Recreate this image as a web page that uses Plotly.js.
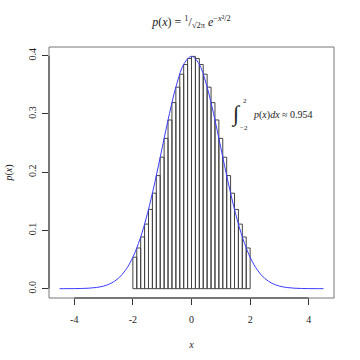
<!DOCTYPE html>
<html>
<head>
<meta charset="utf-8">
<script src="https://cdn.plot.ly/plotly-3.0.1.min.js"></script>
<style>html,body{margin:0;padding:0;background:#fff;}#chart{width:360px;height:360px;}</style>
</head>
<body>
<div id="chart"></div>
<script>
// Bars: left edges and heights
var barLeft = [-2.0000,-1.8667,-1.7333,-1.6000,-1.4667,-1.3333,-1.2000,-1.0667,-0.9333,-0.8000,
               -0.6667,-0.5333,-0.4000,-0.2667,-0.1333,0.0000,0.1333,0.2667,0.4000,0.5333,
               0.6667,0.8000,0.9333,1.0667,1.2000,1.3333,1.4667,1.6000,1.7333,1.8667];
var barHeight = [0.0540,0.0699,0.0888,0.1109,0.1361,0.1640,0.1942,0.2258,0.2581,0.2897,
                 0.3195,0.3461,0.3683,0.3850,0.3954,0.3989,0.3954,0.3850,0.3683,0.3461,
                 0.3195,0.2897,0.2581,0.2258,0.1942,0.1640,0.1361,0.1109,0.0888,0.0699];
var barWidth = 0.13333;
// Curve points
var curveX = [-4.5,-4.25,-4,-3.75,-3.5,-3.25,-3,-2.75,-2.5,-2.25,-2,-1.75,-1.5,-1.25,-1,-0.75,-0.5,-0.25,0,
              0.25,0.5,0.75,1,1.25,1.5,1.75,2,2.25,2.5,2.75,3,3.25,3.5,3.75,4,4.25,4.5];
var curveY = [0.00002,0.00005,0.00013,0.00035,0.00087,0.00203,0.00443,0.00909,0.01753,0.03174,0.05399,0.08628,0.12952,0.18265,0.24197,0.30114,0.35207,0.38667,0.39894,
              0.38667,0.35207,0.30114,0.24197,0.18265,0.12952,0.08628,0.05399,0.03174,0.01753,0.00909,0.00443,0.00203,0.00087,0.00035,0.00013,0.00005,0.00002];
var xTicks = [-4,-2,0,2,4];
var yTicks = [0.0,0.1,0.2,0.3,0.4];
var yTickText = ['0.0','0.1','0.2','0.3','0.4'];

var serif = 'Liberation Serif, DejaVu Serif, serif';
var traces = [
  {type:'bar', x:barLeft, y:barHeight, width:barLeft.map(function(){return barWidth;}), offset:0,
   marker:{color:'rgba(0,0,0,0)', line:{color:'#444', width:1}}, hoverinfo:'none', showlegend:false},
  {type:'scatter', mode:'lines', x:curveX, y:curveY, line:{color:'#3b3bff', width:1, shape:'spline'},
   hoverinfo:'none', showlegend:false}
];
var layout = {
  width:360, height:360,
  margin:{l:49, r:26, t:47, b:62},
  paper_bgcolor:'#fff', plot_bgcolor:'#fff',
  font:{family:serif, size:10, color:'#222'},
  title:{text:'<i>p</i>(<i>x</i>) = <sup>1</sup>/<sub>√2π</sub> <i>e</i><sup>−<i>x</i>²/2</sup>',
         x:0.5, xref:'paper', y:0.94, yanchor:'middle', font:{family:serif, size:12, color:'#222'}},
  xaxis:{range:[-4.86,4.86], tickvals:xTicks, ticktext:xTicks.map(String), ticks:'outside', ticklen:6,
         tickcolor:'#333', showgrid:false, zeroline:false, showline:false,
         tickfont:{family:serif, size:10, color:'#222'}, ticklabelstandoff:6,
         title:{text:'<i>x</i>', font:{family:serif, size:10, color:'#222'}, standoff:16}},
  yaxis:{range:[-0.016,0.415], tickvals:yTicks, ticktext:yTickText, ticks:'outside', ticklen:6,
         tickcolor:'#333', showgrid:false, zeroline:false, showline:false, tickangle:-90,
         tickfont:{family:serif, size:10, color:'#222'}, ticklabelstandoff:2,
         title:{text:'<i>p</i>(<i>x</i>)', font:{family:serif, size:10, color:'#222'}, standoff:12}},
  shapes:[
    {type:'rect', xref:'paper', yref:'paper', x0:0, x1:1, y0:0, y1:1, line:{color:'#777', width:1}},
    {type:'line', xref:'x', yref:'paper', x0:-4, x1:4, y0:0, y1:0, line:{color:'#333', width:1}},
    {type:'line', xref:'paper', yref:'y', x0:0, x1:0, y0:0, y1:0.4, line:{color:'#333', width:1}}
  ],
  annotations:[
    {xref:'x', yref:'y', x:1.52, y:0.300, xanchor:'center', yanchor:'middle', showarrow:false,
     text:'∫', font:{family:'Liberation Serif, serif', size:22, color:'#222'}},
    {xref:'x', yref:'y', x:1.82, y:0.322, xanchor:'center', yanchor:'middle', showarrow:false,
     text:'2', font:{family:serif, size:7, color:'#222'}},
    {xref:'x', yref:'y', x:1.80, y:0.276, xanchor:'center', yanchor:'middle', showarrow:false,
     text:'−2', font:{family:serif, size:7, color:'#222'}},
    {xref:'x', yref:'y', x:2.03, y:0.299, xanchor:'left', yanchor:'middle', showarrow:false,
     text:'<i>p</i>(<i>x</i>)<i>dx</i> ≈ 0.954', font:{family:serif, size:10, color:'#222'}}
  ],
  bargap:0
};
Plotly.newPlot('chart', traces, layout, {staticPlot:true, displayModeBar:false});
</script>
</body>
</html>
